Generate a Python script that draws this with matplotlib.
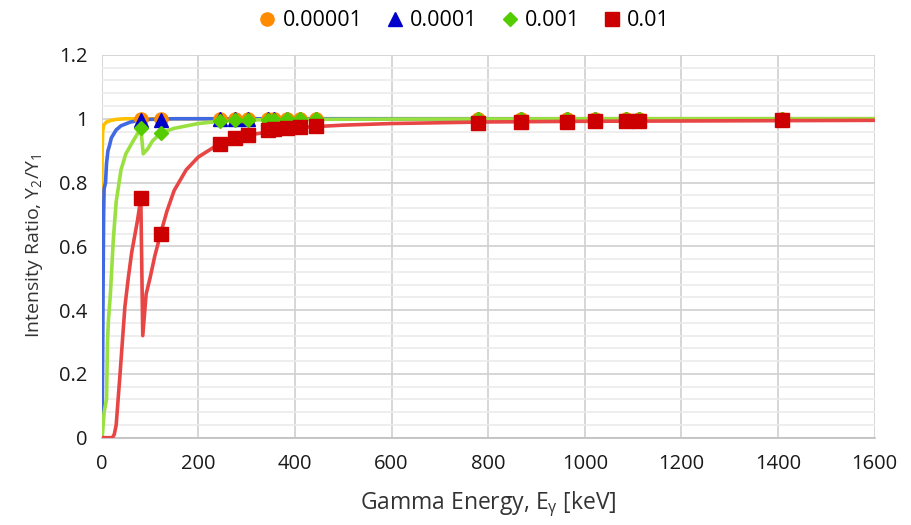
import numpy as np
import matplotlib
matplotlib.use("Agg")
import matplotlib.pyplot as plt
from matplotlib.lines import Line2D

plt.rcParams['font.family'] = ['Open Sans', 'DejaVu Sans']
plt.rcParams['mathtext.fontset'] = 'custom'
plt.rcParams['mathtext.rm'] = 'Open Sans'
plt.rcParams['mathtext.it'] = 'Open Sans'

# calculated curves (energy in keV, ratio Y2/Y1)
e_orange = [0, 1, 2, 4, 10, 20, 30, 50, 100, 1600]
r_orange = [0.72, 0.90, 0.96, 0.98, 0.99, 0.995, 0.998, 1.0, 1.0, 1.0]

e_blue = [1, 2, 3, 4, 5, 8, 10, 13, 16, 20, 30, 40, 60, 80, 100, 150, 1600]
r_blue = [0.03, 0.25, 0.5, 0.7, 0.78, 0.80, 0.86, 0.90, 0.915, 0.94, 0.965, 0.978,
          0.99, 0.995, 0.998, 1.0, 1.0]

e_green = [1, 5, 10, 12, 14, 18, 24, 30, 40, 50, 65, 75, 81, 86, 95, 105, 122, 150,
           200, 250, 300, 400, 600, 1000, 1600]
r_green = [0.0, 0.08, 0.12, 0.3, 0.37, 0.45, 0.62, 0.74, 0.84, 0.89, 0.93, 0.955, 0.97,
           0.89, 0.905, 0.93, 0.955, 0.97, 0.985, 0.993, 0.996, 0.998, 0.999, 1.0, 1.0]

e_red = [0, 22, 26, 30, 34, 38, 48, 55, 62, 74, 81, 85, 92, 100, 110, 122, 135, 150,
         175, 200, 244, 300, 400, 500, 600, 800, 1000, 1200, 1400, 1600]
r_red = [0.0, 0.0, 0.01, 0.04, 0.12, 0.2, 0.41, 0.5, 0.58, 0.68, 0.75, 0.32, 0.45, 0.5,
         0.57, 0.64, 0.71, 0.775, 0.84, 0.88, 0.922, 0.948, 0.972, 0.98, 0.985, 0.99,
         0.992, 0.993, 0.994, 0.995]

# gamma lines with markers
e_pts = [81, 122, 244, 276, 303, 344, 356, 384, 411, 444, 779, 867, 964, 1022,
         1086, 1112, 1408]
r_pts_orange = [1.0] * len(e_pts)
r_pts_blue = [0.995, 0.995] + [1.0] * (len(e_pts) - 2)
r_pts_green = [0.97, 0.955, 0.993, 0.995, 0.996, 0.997, 0.997, 0.998, 0.998, 0.998,
               0.999, 0.999, 0.999, 1.0, 1.0, 1.0, 1.0]
r_pts_red = [0.75, 0.64, 0.922, 0.94, 0.95, 0.965, 0.967, 0.97, 0.974, 0.977, 0.988,
             0.99, 0.991, 0.992, 0.993, 0.994, 0.995]

labels = ['0.00001', '0.0001', '0.001', '0.01']
line_colors = ['#FFC000', '#4169E1', '#99E040', '#E84545']
mark_colors = ['#FF8C00', '#0000CC', '#55CC00', '#CC0000']
markers = ['o', '^', 'D', 's']
msizes = [9.5, 9.5, 7, 10]

fig = plt.figure(figsize=(9.12, 5.25), dpi=100)
ax = fig.add_axes([0.1115, 0.1663, 0.8475, 0.7290])

curves = [(e_orange, r_orange), (e_blue, r_blue), (e_green, r_green), (e_red, r_red)]
pts = [r_pts_orange, r_pts_blue, r_pts_green, r_pts_red]

for (ex, ry), c in zip(curves, line_colors):
    ax.plot(ex, ry, color=c, lw=2.6, solid_joinstyle='round', zorder=3)
for ry, c, m, ms in zip(pts, mark_colors, markers, msizes):
    ax.plot(e_pts, ry, ls='none', marker=m, color=c, ms=ms, zorder=4)

ax.set_xlim(0, 1600)
ax.set_ylim(0, 1.2)
ax.set_xticks(np.arange(0, 1601, 200))
ax.set_yticks(np.arange(0, 1.21, 0.2))
ax.set_yticklabels(['0', '0.2', '0.4', '0.6', '0.8', '1', '1.2'])
ax.set_yticks(np.arange(0, 1.2, 0.04), minor=True)
ax.grid(True, which='major', color='#D0D0D0', lw=1.2)
ax.grid(True, which='minor', axis='y', color='#EBEBEB', lw=1.2)
ax.set_axisbelow(True)
for s in ['top', 'right', 'left']:
    ax.spines[s].set_visible(False)
ax.spines['bottom'].set_color('#BFBFBF')
ax.spines['bottom'].set_linewidth(1.2)
ax.tick_params(which='both', length=0, labelsize=14.5, colors='#1a1a1a', pad=12)
ax.tick_params(axis='y', pad=10)

ax.set_xlabel(r'Gamma Energy, E$_\gamma$ [keV]', fontsize=16.5, color='#333333', labelpad=11)
ax.set_ylabel(r'Intensity Ratio, Y$_2$/Y$_1$', fontsize=14, color='#333333', labelpad=10)

handles = [Line2D([], [], ls='none', marker=m, color=c, ms=ms)
           for c, m, ms in zip(mark_colors, markers, msizes)]
fig.legend(handles, labels, loc='center', bbox_to_anchor=(0.508, 0.96), ncol=4,
           frameon=False, fontsize=15.5, handletextpad=0.2, columnspacing=1.0,
           handlelength=1.0)

fig.savefig('out.png', dpi=100)
